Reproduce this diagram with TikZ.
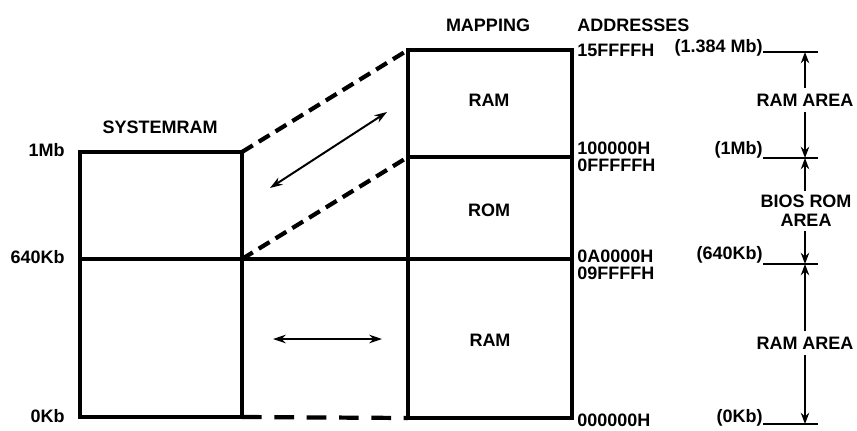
\documentclass[tikz,border=0pt]{standalone}
\usepackage{fontspec}
\setmainfont{Liberation Sans}
\usetikzlibrary{arrows.meta}
\tikzset{boxline/.style={line width=2.8pt}}
\tikzset{lbl/.style={font=\bfseries\fontsize{12.8}{13.5}\selectfont, inner sep=0pt}}
\tikzset{dashline/.style={line width=3pt,dash pattern=on 9pt off 5pt}}
\tikzset{maparrow/.style={line width=1.4pt,{Stealth[length=9pt,width=6pt]}-{Stealth[length=9pt,width=6pt]}}}
\tikzset{dimarrow/.style={line width=1.4pt,-{Stealth[length=8pt,width=6pt]}}}
\tikzset{tickline/.style={line width=1.4pt}}

\begin{document}
\begin{tikzpicture}[x=0.025cm,y=-0.025cm]
\useasboundingbox (0,0) rectangle (857,430);
% system ram box
\coordinate (s1) at (80,152);
\coordinate (s2) at (242,152);
\coordinate (s3) at (80,259);
\coordinate (s4) at (242,259);
\coordinate (s5) at (80,417);
\coordinate (s6) at (242,417);
% mapping box
\coordinate (m1) at (408,50);
\coordinate (m2) at (572,50);
\coordinate (m3) at (408,157);
\coordinate (m4) at (572,157);
\coordinate (m6) at (572,259);
\coordinate (m7) at (408,418);
\coordinate (m8) at (572,418);
\draw[boxline] (s1) -- (s2) -- (s6) -- (s5) -- cycle;
\draw[boxline] (s3) -- (m6);
\draw[boxline] (m1) -- (m2) -- (m8) -- (m7) -- cycle;
\draw[boxline] (m3) -- (m4);
\draw[dashline] (s2) -- (m1);
\draw[dashline] (s4) -- (m3);
\draw[dashline,dash pattern=on 14pt off 9pt] (s6) -- (m7);
% mapping arrows
\coordinate (d1) at (270,188);
\coordinate (d2) at (387,112);
\draw[maparrow] (d1) -- (d2);
\coordinate (h1) at (273,339);
\coordinate (h2) at (382,339);
\draw[maparrow] (h1) -- (h2);
% left labels
\node[lbl] (sysram) at (160,127) {SYSTEMRAM};
\node[lbl,anchor=east] (k1) at (65,150) {1Mb};
\node[lbl,anchor=east] (k2) at (65,257) {640Kb};
\node[lbl,anchor=east] (k3) at (65,416) {0Kb};
% box labels
\node[lbl] (map) at (488,25) {MAPPING};
\node[lbl] (ram1) at (489,100) {RAM};
\node[lbl] (rom) at (489,210) {ROM};
\node[lbl] (ram2) at (490,340) {RAM};
% addresses
\node[lbl,anchor=west] (addr) at (577,25) {ADDRESSES};
\node[lbl,anchor=west] (a1) at (577,50) {15FFFFH};
\node[lbl,anchor=west] (a2) at (577,148) {100000H};
\node[lbl,anchor=west] (a3) at (577,165) {0FFFFFH};
\node[lbl,anchor=west] (a4) at (577,256) {0A0000H};
\node[lbl,anchor=west] (a5) at (577,273) {09FFFFH};
\node[lbl,anchor=west] (a6) at (577,420) {000000H};
% sizes
\node[lbl,anchor=east] (b1) at (763,48) {(1.384 Mb)};
\node[lbl,anchor=east] (b2) at (763,150) {(1Mb)};
\node[lbl,anchor=east] (b3) at (763,255) {(640Kb)};
\node[lbl,anchor=east] (b4) at (763,418) {(0Kb)};
\coordinate (t1) at (818,52);
\coordinate (t2) at (818,158);
\coordinate (t3) at (818,264);
\coordinate (t4) at (818,424);
\draw[tickline] (b1.east |- t1) -- (t1);
\draw[tickline] (b2.east |- t2) -- (t2);
\draw[tickline] (b3.east |- t3) -- (t3);
\draw[tickline] (b4.east |- t4) -- (t4);
\coordinate (c1) at (805,52);
\coordinate (c2) at (805,158);
\coordinate (c3) at (805,264);
\coordinate (c4) at (805,424);
% areas
\node[lbl,inner sep=4pt] (area1) at (805,100) {RAM AREA};
\node[lbl,inner sep=3pt,align=center] (area2) at (806,211) {BIOS ROM\\AREA};
\node[lbl,inner sep=4pt] (area3) at (805,343) {RAM AREA};
\draw[dimarrow] (area1.north) -- (c1);
\draw[dimarrow] (area1.south) -- (c2);
\draw[dimarrow] (area2.north -| c2) -- (c2);
\draw[dimarrow] (area2.south -| c3) -- (c3);
\draw[dimarrow] (area3.north) -- (c3);
\draw[dimarrow] (area3.south) -- (c4);
\end{tikzpicture}
\end{document}
